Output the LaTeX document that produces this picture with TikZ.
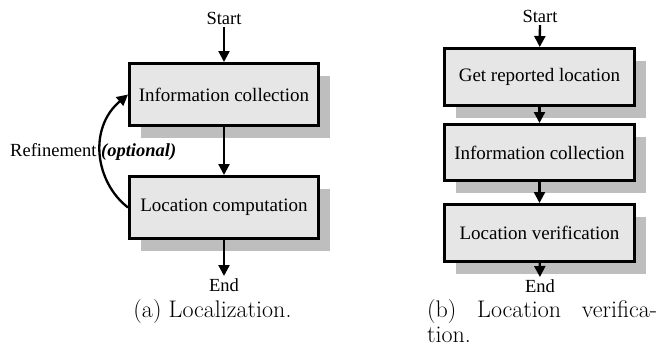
\documentclass[tikz,border=0pt]{standalone}
\usepackage{fontspec}
\newfontfamily\tnr{Liberation Serif}
\usetikzlibrary{arrows.meta,shadows}
\definecolor{boxfill}{HTML}{E6E6E6}
\definecolor{shadowfill}{HTML}{BEBEBE}
\tikzset{
  stepbox/.style={draw=black, line width=3pt, fill=boxfill, inner sep=0pt,
    font=\tnr\fontsize{19}{21}\selectfont,
    general shadow={shadow xshift=11pt, shadow yshift=-12pt, fill=shadowfill}},
  lbl/.style={inner sep=2pt, font=\tnr\fontsize{18.5}{21}\selectfont},
  flow/.style={line width=2.3pt, -{Triangle[width=11pt,length=11pt]}},
  captext/.style={inner sep=0pt, font=\fontsize{24}{25}\selectfont, anchor=base}
}
\begin{document}
\begin{tikzpicture}[x=1pt,y=-1pt]
\useasboundingbox (0,0) rectangle (659,349);
% (a) Localization
\node[lbl, anchor=south] (sa) at (224,27) {Start};
\node[stepbox, minimum width=189pt, minimum height=62pt] (ica) at (224,94.5) {Information collection};
\node[stepbox, minimum width=189pt, minimum height=62pt] (lca) at (224,207.5) {Location computation};
\node[lbl, anchor=north] (ea) at (224,276) {End};
\draw[flow] (sa) -- (ica);
\draw[flow] (ica) -- (lca);
\draw[flow] (lca) -- (ea);
\draw[flow] (lca.west) .. controls (95,182) and (88,128) .. (ica.west);
\node[lbl, anchor=base west, inner sep=0pt] (ref) at (10,156) {Refinement \textbf{\textit{(optional)}}};
\node[captext] (capa) at (212.5,317) {(a) Localization.};
% (b) Location verification
\node[lbl, anchor=south] (sb) at (540,25) {Start};
\node[stepbox, minimum width=190pt, minimum height=57pt] (grl) at (539.5,77) {Get reported location};
\node[stepbox, minimum width=190pt, minimum height=56pt] (icb) at (539.5,152.5) {Information collection};
\node[stepbox, minimum width=190pt, minimum height=57pt] (lv) at (539.5,233) {Location verification};
\node[lbl, anchor=north] (eb) at (540,277) {End};
\draw[flow] (sb) -- (grl);
\draw[flow] (grl) -- (icb);
\draw[flow] (icb) -- (lv);
\draw[flow] (lv) -- (eb);
\node[captext, anchor=base west, align=left] (capb) at (427,342) {\makebox[230pt][s]{(b) Location verifica-}\\tion.};
\end{tikzpicture}
\end{document}
